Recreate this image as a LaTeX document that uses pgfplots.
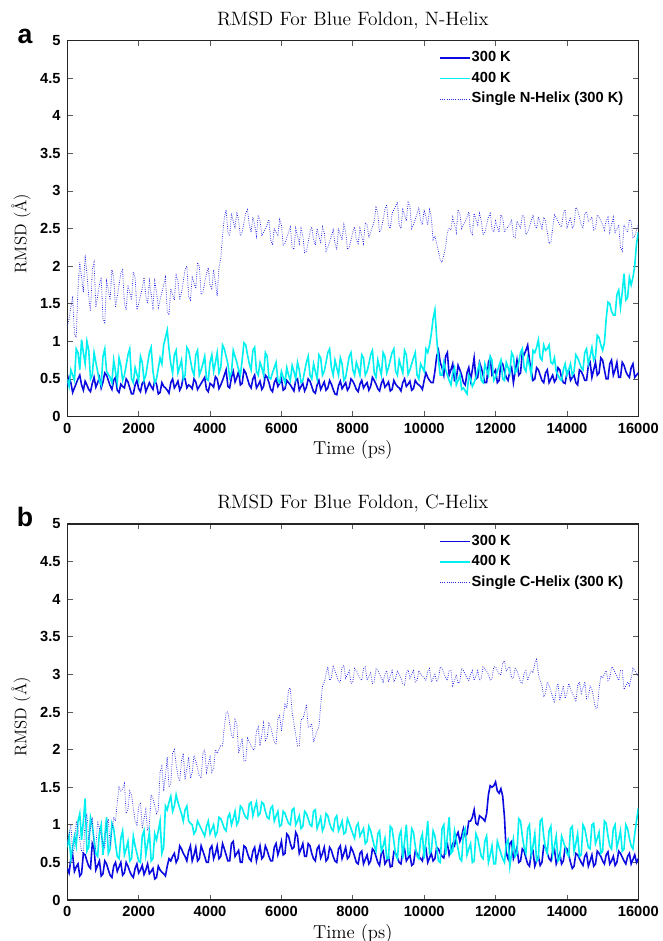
\documentclass[border=0pt]{standalone}
\usepackage{fontspec}
\setsansfont{Liberation Sans}
\usepackage{pgfplots}
\usepackage{pgfplotstable}
\pgfplotsset{compat=1.18}
\definecolor{cblue}{RGB}{10,10,225}
\definecolor{ccyan}{RGB}{0,240,240}
\definecolor{cdot}{RGB}{40,40,235}

\pgfplotstableread{
t p q s
0 0.40 0.50 1.20
100 0.45 0.62 1.45
200 0.38 0.48 1.10
300 0.50 0.85 1.70
400 0.42 1.02 1.85
500 0.47 0.70 2.15
600 0.36 0.88 1.60
700 0.44 0.55 1.95
800 0.39 0.72 1.45
900 0.52 0.47 1.75
1000 0.46 0.80 1.30
1100 0.55 0.60 1.80
1200 0.41 0.52 1.55
1300 0.48 0.75 1.85
1400 0.35 0.45 1.60
1500 0.43 0.68 1.90
1600 0.38 0.55 1.50
1700 0.46 0.82 1.75
1800 0.30 0.50 1.55
1900 0.42 0.65 1.85
2000 0.37 0.48 1.50
2100 0.44 0.72 1.70
2200 0.33 0.55 1.60
2300 0.45 0.85 1.80
2400 0.36 0.60 1.45
2500 0.43 0.50 1.65
2600 0.32 0.78 1.55
2700 0.40 0.95 1.75
2800 0.35 1.15 1.40
2900 0.45 0.70 1.70
3000 0.38 0.82 1.55
3100 0.47 0.58 1.80
3200 0.40 0.75 1.65
3300 0.50 0.55 1.95
3400 0.42 0.88 1.60
3500 0.37 0.62 1.85
3600 0.46 0.82 1.70
3700 0.40 0.55 2.00
3800 0.48 0.70 1.65
3900 0.36 0.50 1.90
4000 0.44 0.72 1.75
4100 0.39 0.60 1.95
4200 0.50 0.85 1.60
4300 0.42 0.65 2.10
4400 0.55 0.90 2.65
4500 0.40 0.70 2.45
4600 0.52 0.58 2.70
4700 0.46 0.80 2.50
4800 0.60 0.62 2.60
4900 0.44 0.75 2.45
5000 0.58 0.95 2.70
5100 0.42 0.70 2.55
5200 0.50 0.88 2.65
5300 0.38 0.60 2.40
5400 0.47 0.72 2.60
5500 0.40 0.55 2.45
5600 0.52 0.80 2.55
5700 0.36 0.50 2.35
5800 0.45 0.65 2.50
5900 0.40 0.48 2.40
6000 0.50 0.60 2.55
6100 0.37 0.45 2.30
6200 0.45 0.55 2.45
6300 0.38 0.68 2.25
6400 0.48 0.50 2.50
6500 0.35 0.62 2.30
6600 0.44 0.48 2.40
6700 0.39 0.72 2.20
6800 0.47 0.55 2.45
6900 0.33 0.70 2.35
7000 0.42 0.50 2.50
7100 0.36 0.78 2.30
7200 0.46 0.60 2.45
7300 0.38 0.85 2.25
7400 0.43 0.65 2.40
7500 0.30 0.75 2.30
7600 0.41 0.55 2.50
7700 0.37 0.70 2.35
7800 0.45 0.52 2.45
7900 0.39 0.80 2.25
8000 0.47 0.62 2.45
8100 0.36 0.72 2.35
8200 0.43 0.55 2.50
8300 0.38 0.78 2.30
8400 0.45 0.60 2.55
8500 0.40 0.82 2.45
8600 0.48 0.58 2.60
8700 0.37 0.75 2.70
8800 0.44 0.55 2.50
8900 0.39 0.80 2.75
9000 0.46 0.65 2.55
9100 0.36 0.85 2.70
9200 0.43 0.60 2.80
9300 0.38 0.75 2.55
9400 0.45 0.58 2.75
9500 0.40 0.82 2.60
9600 0.47 0.62 2.80
9700 0.37 0.78 2.55
9800 0.44 0.55 2.70
9900 0.40 0.70 2.60
10000 0.48 0.60 2.75
10100 0.52 0.85 2.55
10200 0.45 1.10 2.65
10300 0.60 1.42 2.40
10400 0.88 0.75 2.20
10500 0.65 0.55 2.05
10600 0.80 0.62 2.25
10700 0.55 0.48 2.50
10800 0.70 0.58 2.65
10900 0.50 0.42 2.45
11000 0.62 0.55 2.70
11100 0.45 0.38 2.55
11200 0.58 0.30 2.65
11300 0.48 0.50 2.45
11400 0.78 0.45 2.70
11500 0.52 0.62 2.55
11600 0.65 0.48 2.60
11700 0.45 0.70 2.45
11800 0.72 0.55 2.65
11900 0.55 0.75 2.50
12000 0.62 0.52 2.60
12100 0.48 0.68 2.45
12200 0.70 0.50 2.65
12300 0.52 0.72 2.50
12400 0.60 0.58 2.55
12500 0.45 0.80 2.40
12600 0.75 0.62 2.60
12700 0.58 0.85 2.50
12800 0.82 0.65 2.65
12900 0.95 0.78 2.45
13000 0.60 0.55 2.60
13100 0.50 0.85 2.55
13200 0.62 1.02 2.65
13300 0.48 0.75 2.50
13400 0.58 0.88 2.60
13500 0.45 0.95 2.30
13600 0.55 0.70 2.50
13700 0.50 0.60 2.65
13800 0.62 0.50 2.55
13900 0.45 0.62 2.70
14000 0.58 0.55 2.50
14100 0.48 0.70 2.65
14200 0.55 0.60 2.55
14300 0.42 0.78 2.75
14400 0.60 0.65 2.55
14500 0.48 0.85 2.70
14600 0.68 0.70 2.60
14700 0.52 0.92 2.65
14800 0.72 0.80 2.50
14900 0.58 1.05 2.65
15000 0.75 0.88 2.55
15100 0.50 1.30 2.60
15200 0.70 1.50 2.45
15300 0.55 1.35 2.65
15400 0.72 1.62 2.50
15500 0.52 1.45 2.25
15600 0.68 1.90 2.55
15700 0.55 1.58 2.45
15800 0.65 1.75 2.60
15900 0.52 2.00 2.40
16000 0.58 2.45 2.55
}\tabAmain

\pgfplotstableread{
t p q s
50 0.52 0.40 1.30
150 0.32 0.55 1.60
250 0.44 0.90 1.05
350 0.55 0.62 2.05
450 0.35 0.85 1.65
550 0.42 1.00 1.90
650 0.33 0.50 1.40
750 0.52 0.85 2.05
850 0.45 0.60 1.60
950 0.38 0.42 1.85
1050 0.58 0.90 1.25
1150 0.48 0.56 1.68
1250 0.36 0.45 1.95
1350 0.52 0.60 1.45
1450 0.32 0.78 1.75
1550 0.40 0.48 1.95
1650 0.50 0.68 1.42
1750 0.38 0.90 1.65
1850 0.30 0.45 1.92
1950 0.48 0.56 1.42
2050 0.33 0.80 1.60
2150 0.47 0.48 1.85
2250 0.39 0.70 1.50
2350 0.40 0.92 1.62
2450 0.48 0.45 1.80
2550 0.30 0.64 1.45
2650 0.45 0.70 1.65
2750 0.38 1.05 1.85
2850 0.31 0.90 1.35
2950 0.50 0.58 1.62
3050 0.42 0.88 1.88
3150 0.35 0.66 1.55
3250 0.53 0.50 1.80
3350 0.38 0.92 2.00
3450 0.40 0.75 1.55
3550 0.50 0.55 1.78
3650 0.36 0.88 2.05
3750 0.44 0.62 1.62
3850 0.52 0.80 1.78
3950 0.33 0.48 1.98
4050 0.42 0.82 1.70
4150 0.53 0.72 1.78
4250 0.37 0.58 1.98
4350 0.48 0.95 2.40
4450 0.62 0.80 2.75
4550 0.38 0.52 2.40
4650 0.60 0.88 2.60
4750 0.52 0.72 2.72
4850 0.42 0.55 2.40
4950 0.62 0.98 2.58
5050 0.50 0.82 2.75
5150 0.38 0.62 2.45
5250 0.55 0.92 2.55
5350 0.42 0.55 2.68
5450 0.36 0.65 2.40
5550 0.55 0.85 2.50
5650 0.45 0.52 2.62
5750 0.33 0.58 2.28
5850 0.50 0.72 2.45
5950 0.44 0.45 2.62
6050 0.35 0.52 2.28
6150 0.48 0.65 2.38
6250 0.42 0.48 2.52
6350 0.34 0.60 2.22
6450 0.50 0.72 2.40
6550 0.40 0.45 2.50
6650 0.34 0.60 2.18
6750 0.50 0.80 2.32
6850 0.40 0.50 2.52
6950 0.31 0.60 2.28
7050 0.48 0.82 2.40
7150 0.41 0.55 2.52
7250 0.35 0.72 2.20
7350 0.48 0.90 2.32
7450 0.36 0.55 2.48
7550 0.29 0.65 2.22
7650 0.47 0.78 2.42
7750 0.41 0.48 2.55
7850 0.35 0.66 2.22
7950 0.50 0.85 2.35
8050 0.42 0.55 2.52
8150 0.33 0.64 2.30
8250 0.48 0.82 2.40
8350 0.42 0.55 2.58
8450 0.35 0.70 2.38
8550 0.52 0.88 2.52
8650 0.43 0.52 2.78
8750 0.34 0.65 2.45
8850 0.49 0.85 2.62
8950 0.42 0.58 2.82
9050 0.34 0.75 2.50
9150 0.48 0.90 2.75
9250 0.40 0.55 2.85
9350 0.34 0.66 2.50
9450 0.50 0.88 2.68
9550 0.43 0.56 2.85
9650 0.35 0.70 2.50
9750 0.48 0.85 2.62
9850 0.42 0.50 2.78
9950 0.36 0.65 2.55
10050 0.58 0.90 2.65
10150 0.48 0.95 2.75
10250 0.45 1.30 2.35
10350 0.80 1.05 2.30
10450 0.72 0.55 2.08
10550 0.55 0.72 2.15
10650 0.85 0.55 2.45
10750 0.62 0.42 2.48
10850 0.48 0.65 2.55
10950 0.68 0.48 2.75
11050 0.55 0.36 2.50
11150 0.42 0.34 2.60
11250 0.65 0.55 2.72
11350 0.62 0.40 2.42
11450 0.50 0.52 2.62
11550 0.72 0.70 2.70
11650 0.55 0.45 2.42
11750 0.45 0.62 2.55
11850 0.78 0.80 2.70
11950 0.58 0.48 2.45
12050 0.45 0.60 2.52
12150 0.72 0.75 2.68
12250 0.60 0.48 2.45
12350 0.48 0.65 2.52
12450 0.65 0.85 2.62
12550 0.60 0.58 2.38
12650 0.55 0.72 2.55
12750 0.85 0.90 2.68
12850 0.88 0.60 2.42
12950 0.75 0.68 2.52
13050 0.48 0.88 2.68
13150 0.65 0.92 2.50
13250 0.55 0.78 2.58
13350 0.45 0.95 2.65
13450 0.62 0.90 2.45
13550 0.50 0.72 2.32
13650 0.46 0.78 2.68
13750 0.65 0.55 2.60
13850 0.52 0.48 2.52
13950 0.44 0.70 2.75
14050 0.62 0.62 2.58
14150 0.52 0.55 2.50
14250 0.45 0.82 2.78
14350 0.62 0.72 2.65
14450 0.55 0.62 2.50
14550 0.48 0.90 2.72
14650 0.72 0.80 2.62
14750 0.62 0.75 2.48
14850 0.55 1.08 2.68
14950 0.78 0.95 2.60
15050 0.62 0.98 2.48
15150 0.50 1.52 2.65
15250 0.75 1.40 2.55
15350 0.62 1.35 2.45
15450 0.52 1.68 2.55
15550 0.72 1.65 2.20
15650 0.60 1.55 2.50
15750 0.52 1.85 2.62
15850 0.70 1.85 2.38
15950 0.55 2.30 2.48
}\tabAmid

\pgfplotstableread{
t p q s
0 0.42 0.70 0.75
100 0.55 0.55 1.00
200 0.38 0.85 0.70
300 0.48 1.05 0.95
400 0.35 0.80 0.65
500 0.60 1.35 1.05
600 0.45 0.70 0.80
700 0.75 1.00 1.10
800 0.40 0.62 0.70
900 0.52 0.90 0.95
1000 0.35 0.60 0.75
1100 0.48 1.10 1.00
1200 0.33 0.68 0.72
1300 0.45 0.95 1.10
1400 0.38 0.58 1.30
1500 0.50 0.82 1.45
1600 0.36 0.60 1.55
1700 0.45 0.78 1.20
1800 0.33 0.55 1.40
1900 0.42 0.72 1.05
2000 0.36 0.52 1.25
2100 0.46 0.85 0.95
2200 0.40 0.60 1.20
2300 0.35 0.90 1.00
2400 0.42 0.55 1.35
2500 0.30 0.80 1.15
2600 0.40 1.05 1.70
2700 0.35 0.70 1.45
2800 0.45 1.20 1.90
2900 0.52 1.38 1.55
3000 0.62 1.25 2.00
3100 0.55 1.30 1.65
3200 0.68 1.15 1.85
3300 0.58 1.20 1.60
3400 0.65 1.05 1.90
3500 0.52 1.00 1.70
3600 0.70 0.92 1.85
3700 0.55 1.00 1.65
3800 0.65 0.90 1.95
3900 0.50 0.98 1.70
4000 0.68 0.88 1.90
4100 0.55 1.00 1.75
4200 0.72 0.90 1.95
4300 0.58 1.08 2.05
4400 0.68 0.95 2.30
4500 0.52 1.10 2.50
4600 0.75 1.00 2.20
4700 0.58 1.18 2.40
4800 0.66 1.05 1.95
4900 0.50 1.22 2.15
5000 0.70 1.10 1.85
5100 0.55 1.28 2.10
5200 0.65 1.12 2.00
5300 0.52 1.30 2.25
5400 0.72 1.15 2.05
5500 0.58 1.28 2.35
5600 0.66 1.10 2.15
5700 0.52 1.22 2.30
5800 0.70 1.05 2.10
5900 0.60 1.18 2.40
6000 0.78 1.00 2.25
6100 0.62 1.15 2.60
6200 0.85 1.02 2.80
6300 0.68 1.20 2.50
6400 0.90 1.00 2.20
6500 0.62 1.12 2.05
6600 0.75 0.98 2.40
6700 0.58 1.15 2.60
6800 0.72 1.00 2.30
6900 0.55 1.18 2.10
7000 0.68 0.95 2.25
7100 0.56 1.10 2.60
7200 0.70 0.98 2.90
7300 0.55 1.12 3.10
7400 0.66 0.95 2.95
7500 0.52 1.08 3.05
7600 0.68 0.92 2.90
7700 0.55 1.05 3.10
7800 0.70 0.90 2.95
7900 0.58 1.02 3.05
8000 0.65 0.88 2.90
8100 0.50 0.98 3.05
8200 0.62 0.85 2.95
8300 0.48 0.95 3.08
8400 0.60 0.78 2.92
8500 0.52 0.92 3.02
8600 0.65 0.72 2.90
8700 0.50 0.88 3.05
8800 0.62 0.65 2.95
8900 0.48 0.82 3.00
9000 0.58 0.55 2.90
9100 0.45 0.95 3.05
9200 0.62 0.60 2.95
9300 0.50 0.85 3.00
9400 0.65 0.55 2.88
9500 0.52 1.00 3.02
9600 0.60 0.62 2.95
9700 0.48 0.90 3.05
9800 0.62 0.58 2.92
9900 0.55 0.80 3.00
10000 0.65 0.55 2.95
10100 0.50 1.05 3.05
10200 0.62 0.65 2.90
10300 0.55 0.85 3.00
10400 0.68 0.52 2.95
10500 0.58 0.95 3.08
10600 0.72 0.60 2.95
10700 0.60 1.10 3.05
10800 0.75 0.65 2.85
10900 0.85 0.80 3.00
11000 0.78 0.55 2.90
11100 0.95 0.90 3.05
11200 0.88 0.60 2.95
11300 1.05 0.75 3.00
11400 1.20 0.52 2.92
11500 1.00 0.82 3.05
11600 1.10 0.58 2.95
11700 1.05 0.78 3.08
11800 1.40 0.50 3.00
11900 1.50 0.72 2.95
12000 1.57 0.48 3.10
12100 1.42 0.70 3.00
12200 1.38 0.55 3.15
12300 0.62 0.75 3.05
12400 0.75 0.45 3.10
12500 0.55 0.80 2.95
12600 0.70 0.62 3.05
12700 0.52 1.05 2.90
12800 0.65 0.70 3.02
12900 0.48 0.95 2.92
13000 0.62 0.60 3.05
13100 0.45 0.88 3.15
13200 0.58 0.55 3.00
13300 0.50 1.08 2.85
13400 0.70 0.68 2.75
13500 0.55 0.92 2.85
13600 0.65 0.60 2.70
13700 0.48 0.85 2.80
13800 0.62 0.55 2.65
13900 0.52 0.78 2.85
14000 0.68 0.62 2.75
14100 0.50 0.95 2.80
14200 0.45 0.65 2.70
14300 0.60 0.88 2.85
14400 0.50 0.60 2.75
14500 0.58 0.95 2.90
14600 0.45 0.70 2.70
14700 0.60 1.00 2.80
14800 0.48 0.75 2.55
14900 0.62 0.90 2.80
15000 0.52 0.65 2.95
15100 0.60 1.02 3.05
15200 0.48 0.72 2.95
15300 0.58 0.95 3.08
15400 0.50 0.70 2.98
15500 0.62 0.92 3.05
15600 0.52 0.68 2.80
15700 0.58 0.95 2.90
15800 0.48 0.72 2.95
15900 0.60 0.88 3.05
16000 0.55 1.22 2.98
}\tabBmain

\pgfplotstableread{
t p q s
50 0.36 0.85 0.88
150 0.60 0.70 0.62
250 0.44 0.72 1.05
350 0.32 1.15 0.80
450 0.62 1.05 0.62
550 0.52 0.65 1.15
650 0.42 1.10 0.95
750 0.68 0.80 0.65
850 0.46 0.58 1.05
950 0.32 1.00 0.85
1050 0.52 0.85 0.68
1150 0.40 0.62 1.08
1250 0.30 1.02 0.92
1350 0.50 0.75 1.05
1450 0.44 0.55 1.50
1550 0.33 0.92 1.48
1650 0.50 0.68 1.15
1750 0.38 0.52 1.45
1850 0.30 0.85 1.22
1950 0.48 0.62 1.00
2050 0.40 0.50 1.30
2150 0.34 0.92 1.08
2250 0.48 0.75 0.92
2350 0.38 0.52 1.40
2450 0.28 0.88 1.25
2550 0.45 0.92 1.20
2650 0.37 0.62 1.78
2750 0.32 1.25 1.65
2850 0.55 1.30 1.50
2950 0.58 1.18 1.95
3050 0.50 1.40 1.80
3150 0.72 1.22 1.58
3250 0.62 1.05 1.95
3350 0.52 1.25 1.75
3450 0.72 1.02 1.62
3550 0.60 0.88 1.92
3650 0.52 1.05 1.75
3750 0.72 0.95 1.62
3850 0.58 0.85 2.00
3950 0.50 1.05 1.80
4050 0.72 0.94 1.70
4150 0.62 0.85 2.00
4250 0.55 1.10 2.00
4350 0.75 1.02 2.05
4450 0.60 0.92 2.50
4550 0.52 1.15 2.35
4650 0.78 1.08 2.15
4750 0.62 1.00 2.35
4850 0.50 1.25 2.05
4950 0.72 1.15 1.85
5050 0.62 1.08 2.15
5150 0.52 1.30 2.05
5250 0.70 1.22 2.00
5350 0.62 1.12 2.30
5450 0.55 1.30 2.20
5550 0.72 1.18 2.12
5650 0.58 1.08 2.35
5750 0.52 1.25 2.20
5850 0.75 1.12 2.08
5950 0.68 0.98 2.45
6050 0.60 1.18 2.42
6150 0.88 1.08 2.55
6250 0.75 1.00 2.82
6350 0.70 1.22 2.35
6450 0.85 1.05 2.05
6550 0.68 0.95 2.40
6650 0.58 1.18 2.50
6750 0.75 1.08 2.30
6850 0.62 0.98 2.35
6950 0.52 1.20 2.18
7050 0.72 1.02 2.30
7150 0.62 0.92 2.85
7250 0.52 1.15 3.00
7350 0.70 1.02 2.92
7450 0.58 0.92 3.12
7550 0.50 1.12 2.98
7650 0.72 0.98 2.90
7750 0.62 0.88 3.12
7850 0.55 1.08 3.00
7950 0.70 0.95 2.88
8050 0.58 0.82 3.08
8150 0.48 1.02 3.00
8250 0.65 0.90 2.92
8350 0.54 0.75 3.10
8450 0.48 0.98 2.97
8550 0.68 0.82 2.88
8650 0.58 0.65 3.08
8750 0.46 0.92 3.00
8850 0.65 0.72 2.90
8950 0.52 0.55 3.05
9050 0.44 0.98 2.98
9150 0.64 0.78 2.90
9250 0.56 0.55 3.05
9350 0.48 0.92 2.95
9450 0.68 0.78 2.86
9550 0.56 0.60 3.06
9650 0.46 0.95 3.00
9750 0.65 0.72 2.90
9850 0.58 0.55 3.05
9950 0.52 0.88 2.98
10050 0.68 0.80 2.92
10150 0.56 0.62 3.08
10250 0.52 0.92 2.95
10350 0.70 0.70 2.90
10450 0.62 0.50 3.10
10550 0.56 1.00 3.02
10650 0.75 0.85 2.92
10750 0.68 0.62 3.05
10850 0.72 0.92 2.92
10950 0.90 0.68 2.88
11050 0.85 0.52 3.08
11150 0.85 0.95 3.00
11250 1.05 0.68 2.92
11350 1.10 0.50 3.05
11450 1.02 0.88 2.98
11550 1.12 0.70 2.92
11650 1.08 0.55 3.10
11750 1.15 0.85 3.04
11850 1.52 0.60 2.92
11950 1.52 0.48 3.10
12050 1.45 0.78 3.05
12150 1.48 0.62 3.00
12250 1.10 0.50 3.18
12350 0.55 0.80 3.08
12450 0.78 0.62 2.95
12550 0.62 0.58 3.08
12650 0.50 1.08 2.98
12750 0.68 0.85 2.88
12850 0.56 0.62 3.05
12950 0.45 1.00 3.00
13050 0.65 0.72 3.02
13150 0.52 0.52 3.20
13250 0.46 1.05 2.92
13350 0.72 0.85 2.70
13450 0.62 0.62 2.90
13550 0.52 0.98 2.78
13650 0.68 0.72 2.62
13750 0.55 0.52 2.88
13850 0.48 0.85 2.75
13950 0.70 0.70 2.68
14050 0.60 0.58 2.88
14150 0.42 0.98 2.75
14250 0.62 0.75 2.65
14350 0.55 0.58 2.90
14450 0.46 1.00 2.82
14550 0.62 0.82 2.68
14650 0.52 0.68 2.85
14750 0.45 1.02 2.68
14850 0.65 0.82 2.55
14950 0.58 0.62 2.98
15050 0.48 1.05 3.00
15150 0.64 0.85 2.92
15250 0.52 0.68 3.10
15350 0.46 1.00 3.02
15450 0.65 0.80 2.92
15550 0.57 0.65 3.05
15650 0.48 1.00 2.85
15750 0.62 0.82 2.85
15850 0.54 0.68 3.08
15950 0.50 1.05 3.02
}\tabBmid

\pgfplotstablevertcat{\tabAmain}{\tabAmid}
\pgfplotstablesort[sort key=t, sort cmp=float <]{\tabA}{\tabAmain}
\pgfplotstablevertcat{\tabBmain}{\tabBmid}
\pgfplotstablesort[sort key=t, sort cmp=float <]{\tabB}{\tabBmain}

\pgfplotsset{
  legend image code/.code={\draw[#1] (0pt,0pt) -- (22.5pt,0pt);},
  rmsd/.style={
    scale only axis, width=428.25pt, height=282pt,
    xmin=0, xmax=16000, ymin=0, ymax=5,
    scaled x ticks=false, scaled y ticks=false,
    xtick={0,2000,4000,6000,8000,10000,12000,14000,16000},
    xticklabels={0,2000,4000,6000,8000,10000,12000,14000,16000},
    ytick={0,0.5,1,1.5,2,2.5,3,3.5,4,4.5,5},
    yticklabels={0,0.5,1,1.5,2,2.5,3,3.5,4,4.5,5},
    /pgf/number format/assume math mode=true,
    ticklabel style={font=\sffamily\bfseries\fontsize{11}{13}\selectfont},
    xticklabel style={yshift=-1.5pt},
    yticklabel style={xshift=-1.5pt},
    major tick length=4pt,
    tick style={line width=0.5pt, black!65},
    axis line style={line width=1pt, black!85},
    title style={at={(0.5,1)}, anchor=base, yshift=5.6pt, font=\fontsize{14.5}{17}\selectfont},
    xlabel style={at={(0.5,0)}, anchor=base, yshift=-28.6pt, font=\fontsize{14}{16}\selectfont},
    ylabel style={at={(axis description cs:-0.081,0.487)}, anchor=center, font=\fontsize{12.6}{15}\selectfont},
    xlabel={Time (ps)},
    ylabel={RMSD (Å)},
    legend style={at={(0.651,0.975)}, anchor=north west, draw=none, fill=none,
      inner sep=0pt, row sep=3.7pt, column sep=0pt,
      font=\sffamily\bfseries\fontsize{11}{13}\selectfont,
      nodes={inner sep=0.6pt, text height=8pt, text depth=2.5pt}},
    legend cell align=left,
  },
  l300/.style={cblue, line width=1.2pt},
  l400/.style={ccyan, line width=1.2pt},
  lsgl/.style={cdot, line width=0.6pt, dash pattern=on 0.55pt off 1.1pt},
}

\begin{document}
\begin{tikzpicture}
\path[use as bounding box] (0pt,0pt) rectangle (496.5pt,-705.75pt);

\begin{axis}[rmsd, at={(50.475pt,-312.375pt)}, anchor=south west,
  title={RMSD For Blue Foldon, N-Helix}]
\addplot[l300] table[x=t,y=p] {\tabA};
\addlegendentry{300 K}
\addplot[l400] table[x=t,y=q] {\tabA};
\addlegendentry{400 K}
\addplot[lsgl] table[x=t,y=s] {\tabA};
\addlegendentry{Single N-Helix (300 K)}
\end{axis}

\begin{axis}[rmsd, at={(50.475pt,-675pt)}, anchor=south west,
  title={RMSD For Blue Foldon, C-Helix}]
\addplot[l300] table[x=t,y=p] {\tabB};
\addlegendentry{300 K}
\addplot[l400] table[x=t,y=q] {\tabB};
\addlegendentry{400 K}
\addplot[lsgl] table[x=t,y=s] {\tabB};
\addlegendentry{Single C-Helix (300 K)}
\end{axis}

\node[anchor=base, font=\sffamily\bfseries\fontsize{20}{22}\selectfont] at (18.75pt,-32.5pt) {a};
\node[anchor=base, font=\sffamily\bfseries\fontsize{20}{22}\selectfont] at (18.75pt,-395.1pt) {b};
\end{tikzpicture}
\end{document}
